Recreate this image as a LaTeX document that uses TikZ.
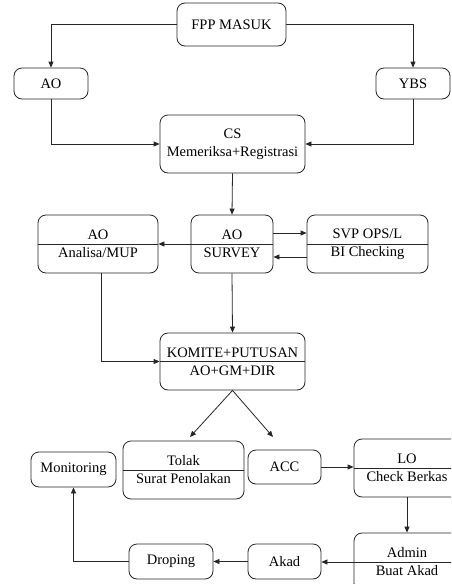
\documentclass[tikz,border=0pt]{standalone}
\usepackage{fontspec}
\setmainfont{Liberation Serif}
\usetikzlibrary{arrows.meta}
\begin{document}
\begin{tikzpicture}[x=1pt,y=-1pt,
  every node/.style={font=\fontsize{14.5}{18}\selectfont},
  box/.style={draw=black!85, line width=0.8pt, rounded corners=8pt, inner sep=0pt, align=center},
  conn/.style={draw=black!85, line width=0.8pt, -{Triangle[length=6pt,width=5pt]}}]
\clip (0,0) rectangle (451,584);
\fill[white] (0,0) rectangle (451,584);
% nodes
\node[box, minimum width=109pt, minimum height=43pt] (fpp) at (231.5,24.5) {FPP MASUK};
\node[box, minimum width=74pt, minimum height=31pt] (ao1) at (51,83.5) {AO};
\node[box, minimum width=74pt, minimum height=31pt] (ybs) at (413,83.5) {YBS};
\node[box, minimum width=145pt, minimum height=58pt] (cs) at (232.5,144) {CS\\Memeriksa+Registrasi};
\node[box, minimum width=120pt, minimum height=58pt] (ana) at (98,244) {AO\\Analisa/MUP};
\node[box, minimum width=82pt, minimum height=58pt] (sur) at (232,244) {AO\\SURVEY};
\node[box, minimum width=121pt, minimum height=58pt] (svp) at (367.5,244) {SVP OPS/L\\BI Checking};
\node[box, minimum width=145pt, minimum height=57pt] (kom) at (232.5,361.5) {KOMITE+PUTUSAN\\AO+GM+DIR};
\node[box, minimum width=121pt, minimum height=58pt] (tol) at (183.5,470) {Tolak\\Surat Penolakan};
\node[box, minimum width=73pt, minimum height=34pt] (acc) at (284.5,467) {ACC};
\node[box, minimum width=85pt, minimum height=35pt] (mon) at (73.5,469.5) {Monitoring};
\node[box, minimum width=106pt, minimum height=58pt] (lo) at (407,468) {LO\\Check Berkas};
\node[box, minimum width=106pt, minimum height=58pt] (adm) at (407,562) {Admin\\Buat Akad};
\node[box, minimum width=73pt, minimum height=35pt] (akad) at (284.5,561.5) {Akad};
\node[box, minimum width=84pt, minimum height=35pt] (drop) at (171,561.5) {Droping};
% dividers
\foreach \n in {ana,sur,svp,kom,tol,lo,adm}
  \draw[draw=black!85, line width=0.8pt] (\n.west) -- (\n.east);
% free ends
\coordinate (t1) at (190,437);
\coordinate (t2) at (273,437);
% connectors
\draw[conn] (fpp.west) -| (ao1.north);
\draw[conn] (fpp.east) -| (ybs.north);
\draw[conn] (ao1.south) |- (cs.west);
\draw[conn] (ybs.south) |- (cs.east);
\draw[conn] (cs.south) -- (sur.north);
\draw[conn] (sur.west) -- (ana.east);
\draw[conn] ([yshift=11pt]sur.east) -- ([yshift=11pt]svp.west);
\draw[conn] ([yshift=-13pt]svp.west) -- ([yshift=-13pt]sur.east);
\draw[conn] (sur.south) -- (kom.north);
\draw[conn] ([xshift=3pt]ana.south) |- (kom.west);
\draw[conn] (kom.south) -- (t1);
\draw[conn] (kom.south) -- (t2);
\draw[conn] (acc.east) -- (acc.east -| lo.west);
\draw[conn] (lo.south) -- (adm.north);
\draw[conn] (adm.west) -- (adm.west -| akad.east);
\draw[conn] (akad.west) -- (drop.east);
\draw[conn] (drop.west) -| (mon.south);
\end{tikzpicture}
\end{document}
